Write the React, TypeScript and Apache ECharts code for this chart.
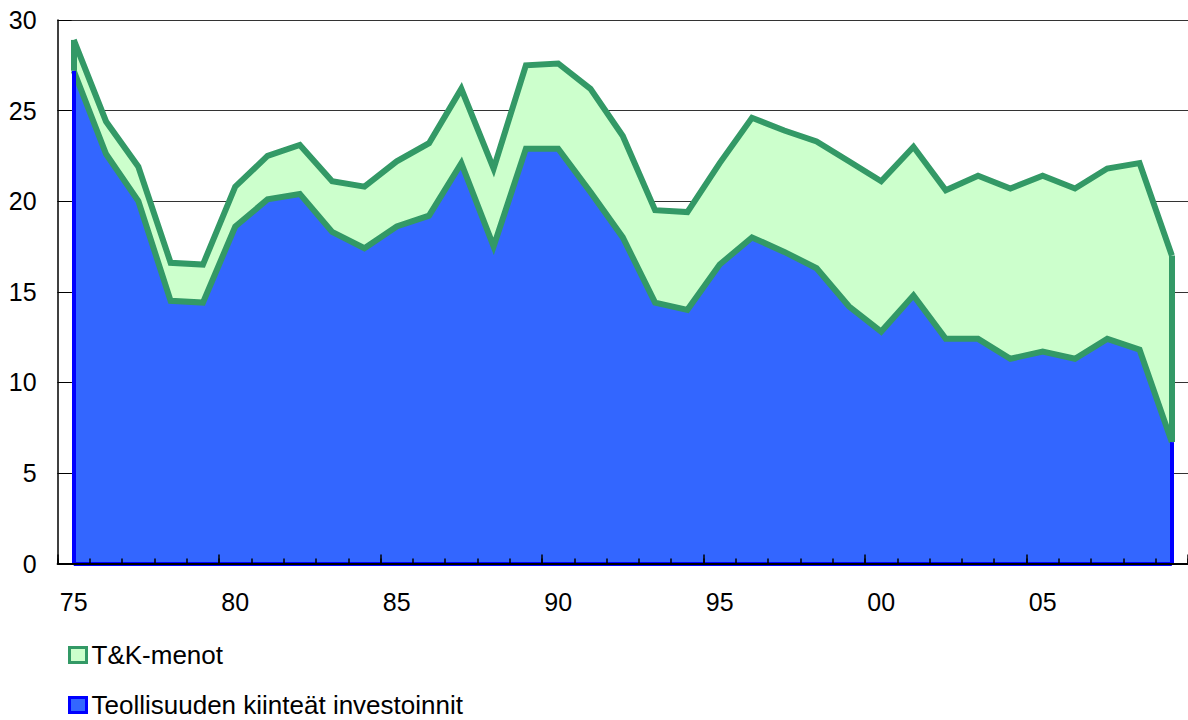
import React, { useEffect, useRef } from "react";
import * as echarts from "echarts";

const years = [
  "75", "76", "77", "78", "79", "80", "81", "82", "83", "84",
  "85", "86", "87", "88", "89", "90", "91", "92", "93", "94",
  "95", "96", "97", "98", "99", "00", "01", "02", "03", "04",
  "05", "06", "07", "08", "09",
];

// Teollisuuden kiinteät investoinnit
const investments = [
  27.2, 22.6, 20.0, 14.5, 14.4, 18.6, 20.1, 20.4, 18.3, 17.4,
  18.6, 19.2, 22.1, 17.5, 22.9, 22.9, 20.5, 18.0, 14.4, 14.0,
  16.5, 18.0, 17.2, 16.3, 14.2, 12.8, 14.8, 12.4, 12.4, 11.3,
  11.7, 11.3, 12.4, 11.8, 6.7,
];

// T&K-menot (stacked on top)
const rdSpending = [
  1.7, 1.8, 1.9, 2.1, 2.1, 2.2, 2.4, 2.7, 2.8, 3.4,
  3.6, 4.0, 4.1, 4.3, 4.6, 4.7, 5.7, 5.6, 5.1, 5.4,
  5.6, 6.6, 6.7, 7.0, 8.0, 8.3, 8.2, 8.2, 9.0, 9.4,
  9.7, 9.4, 9.4, 10.3, 10.3,
];

const yTicks = { min: 0, max: 30, interval: 5 };

const NAME_INV = "Teollisuuden kiinteät investoinnit";
const NAME_RD = "T&K-menot";

const FONT = "Liberation Sans, Arial, sans-serif";
const GREEN = "#339966";
const LIGHT_GREEN = "#CCFFCC";
const BLUE_FILL = "#3366FF";
const BLUE_LINE = "#0000FF";
const LINE_W = 6;

export default function App() {
  const ref = useRef<HTMLDivElement>(null);

  useEffect(() => {
    if (!ref.current) return;
    const chart = echarts.init(ref.current, undefined, { renderer: "svg" });
    const first = years[0];
    const last = years[years.length - 1];
    const n = years.length - 1;

    const legendBase = {
      orient: "vertical",
      left: 63,
      padding: 5,
      itemWidth: 17,
      itemHeight: 15,
      icon: "rect",
      textStyle: { fontSize: 26, color: "#000", fontFamily: FONT },
    };

    chart.setOption({
      animation: false,
      backgroundColor: "#ffffff",
      textStyle: { fontFamily: FONT },
      grid: { left: 57.6, top: 20, right: -3.6, bottom: 156.5, containLabel: false },
      legend: [
        {
          ...legendBase,
          top: 637,
          data: [{ name: NAME_RD, itemStyle: { color: LIGHT_GREEN, borderColor: GREEN, borderWidth: 3 } }],
        },
        {
          ...legendBase,
          top: 687,
          data: [{ name: NAME_INV, itemStyle: { color: BLUE_FILL, borderColor: BLUE_LINE, borderWidth: 3 } }],
        },
      ],
      xAxis: [
        {
          type: "category",
          data: years,
          boundaryGap: true,
          position: "bottom",
          z: 5,
          axisLine: { show: true, lineStyle: { color: "#000", width: 2 } },
          axisTick: { show: true, inside: true, length: 5, interval: 0, lineStyle: { color: "#000", width: 1.5 } },
          axisLabel: { interval: 4, fontSize: 25, color: "#000", margin: 26, fontFamily: FONT },
          splitLine: { show: false },
        },
        {
          type: "category",
          data: years,
          boundaryGap: true,
          position: "bottom",
          offset: 0,
          z: 5,
          axisLine: { show: false },
          axisTick: { show: true, inside: true, length: 9, interval: 4, lineStyle: { color: "#000", width: 1.5 } },
          axisLabel: { show: false },
          splitLine: { show: false },
        },
      ],
      yAxis: {
        type: "value",
        min: yTicks.min,
        max: yTicks.max,
        interval: yTicks.interval,
        axisLine: { show: true, lineStyle: { color: "#000", width: 1.5 } },
        axisTick: { show: true, inside: true, length: 14, lineStyle: { color: "#000", width: 1 } },
        axisLabel: { fontSize: 25, color: "#000", margin: 21, fontFamily: FONT },
        splitLine: { show: true, lineStyle: { color: "#333", width: 1 } },
      },
      series: [
        {
          name: NAME_INV,
          type: "line",
          stack: "area",
          data: investments,
          symbol: "none",
          showSymbol: false,
          lineStyle: { width: 0, color: BLUE_FILL },
          areaStyle: { color: BLUE_FILL, opacity: 1 },
          itemStyle: { color: BLUE_FILL },
          z: 2,
          markLine: {
            silent: true,
            symbol: ["none", "none"],
            label: { show: false },
            lineStyle: { color: BLUE_LINE, width: 4, type: "solid" },
            data: [
              [{ coord: [first, 0] }, { coord: [first, investments[0]] }],
              [{ coord: [last, 0] }, { coord: [last, investments[n]] }],
              [{ coord: [first, 0] }, { coord: [last, 0] }],
            ],
          },
        },
        {
          name: NAME_RD,
          type: "line",
          stack: "area",
          data: rdSpending,
          symbol: "none",
          showSymbol: false,
          lineStyle: { width: 0, color: LIGHT_GREEN },
          areaStyle: { color: LIGHT_GREEN, opacity: 1 },
          itemStyle: { color: LIGHT_GREEN },
          z: 2,
        },
        {
          name: "inv-edge",
          type: "line",
          stack: "edge",
          data: investments,
          symbol: "none",
          showSymbol: false,
          silent: true,
          lineStyle: { color: GREEN, width: LINE_W, join: "miter" },
          z: 4,
        },
        {
          name: "rd-edge",
          type: "line",
          stack: "edge",
          data: rdSpending,
          symbol: "none",
          showSymbol: false,
          silent: true,
          lineStyle: { color: GREEN, width: LINE_W, join: "miter" },
          z: 4,
          markLine: {
            silent: true,
            symbol: ["none", "none"],
            label: { show: false },
            lineStyle: { color: GREEN, width: LINE_W, type: "solid" },
            data: [
              [{ coord: [first, investments[0]] }, { coord: [first, investments[0] + rdSpending[0]] }],
              [{ coord: [last, investments[n]] }, { coord: [last, investments[n] + rdSpending[n]] }],
            ],
          },
        },
      ],
    });

    return () => chart.dispose();
  }, []);

  return (
    <div
      ref={ref}
      style={{ position: "absolute", left: 0, top: 0, width: 1188, height: 720, background: "#fff" }}
    />
  );
}
